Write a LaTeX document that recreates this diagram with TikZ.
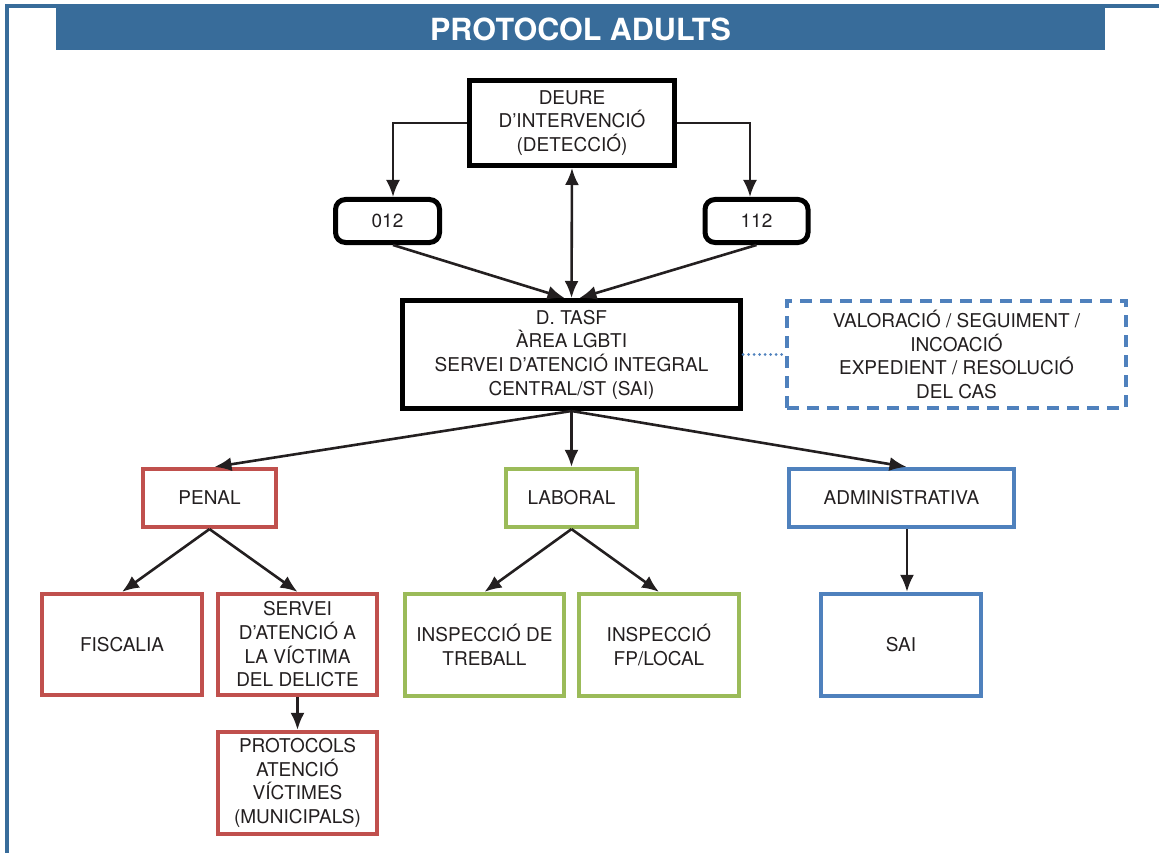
\documentclass[tikz,border=0pt]{standalone}
\usepackage{fontspec}
\setmainfont{TeX Gyre Heros}
\usetikzlibrary{arrows.meta}
\definecolor{frameblue}{HTML}{386C9A}
\definecolor{boxred}{HTML}{C0504D}
\definecolor{boxgreen}{HTML}{9BBB59}
\definecolor{boxblue}{HTML}{4F81BD}
\definecolor{txt}{HTML}{231F20}
\tikzset{
  base/.style={draw, line width=4.5pt, align=center, inner sep=0pt, text=txt,
    font=\fontsize{19}{23.7}\selectfont},
  blk/.style={base, draw=black, line width=5pt},
  rnd/.style={base, draw=black, line width=5pt, rounded corners=10pt},
  redbox/.style={base, draw=boxred, line width=4.2pt},
  greenbox/.style={base, draw=boxgreen, line width=4.2pt},
  bluebox/.style={base, draw=boxblue, line width=4.2pt},
  dashbox/.style={base, draw=boxblue, line width=4.2pt, dash pattern=on 12pt off 8pt},
  tip/.tip={Latex[length=17pt,width=14pt]},
  arr/.style={line width=2.6pt, draw=txt, -tip},
  darr/.style={line width=2.6pt, draw=txt, tip-tip},
}
\begin{document}
\begin{tikzpicture}[x=1pt,y=-1pt]
\useasboundingbox (0,0) rectangle (1159,853);
% frame
\draw[frameblue, line width=4pt] (7,853) -- (7,6) -- (1159,6);
\fill[white] (9,8) rectangle (56,50);
\fill[white] (1105,8) rectangle (1159,50);
\node[fill=frameblue, minimum width=1049pt, minimum height=42pt, inner sep=0pt,
  text=white, font=\bfseries\fontsize{30.5}{32}\selectfont] (title) at (580.5,29) {PROTOCOL ADULTS};
% nodes
\node[blk, minimum width=205pt, minimum height=85pt] (deure) at (572,123)
  {DEURE\\D’INTERVENCIÓ\\(DETECCIÓ)};
\node[rnd, minimum width=104pt, minimum height=43pt] (n012) at (387.5,221) {012};
\node[rnd, minimum width=103pt, minimum height=43pt] (n112) at (756.5,221) {112};
\node[blk, minimum width=338pt, minimum height=108pt] (tasf) at (571.5,354.5)
  {D. TASF\\ÀREA LGBTI\\SERVEI D’ATENCIÓ INTEGRAL\\CENTRAL/ST (SAI)};
\node[dashbox, minimum width=339pt, minimum height=107pt] (val) at (956.5,354.5)
  {VALORACIÓ / SEGUIMENT /\\INCOACIÓ\\EXPEDIENT / RESOLUCIÓ\\DEL CAS};
\node[redbox, minimum width=133pt, minimum height=58pt] (penal) at (209.5,498) {PENAL};
\node[greenbox, minimum width=131pt, minimum height=58pt] (laboral) at (571.5,498) {LABORAL};
\node[bluebox, minimum width=225pt, minimum height=58pt] (admin) at (901.5,498) {ADMINISTRATIVA};
\node[redbox, minimum width=160pt, minimum height=101pt] (fisc) at (122,644.5) {FISCALIA};
\node[redbox, minimum width=159pt, minimum height=101pt] (servei) at (297.5,644.5)
  {SERVEI\\D’ATENCIÓ A\\LA VÍCTIMA\\DEL DELICTE};
\node[redbox, minimum width=159pt, minimum height=102pt] (prot) at (297.5,783)
  {PROTOCOLS\\ATENCIÓ\\VÍCTIMES\\(MUNICIPALS)};
\node[greenbox, minimum width=159pt, minimum height=102pt] (insp1) at (484.5,645)
  {INSPECCIÓ DE\\TREBALL};
\node[greenbox, minimum width=160pt, minimum height=102pt] (insp2) at (659,645)
  {INSPECCIÓ\\FP/LOCAL};
\node[bluebox, minimum width=160pt, minimum height=102pt] (sai) at (901,645) {SAI};
% connectors
\draw[arr] (deure.west) -| ([xshift=5.5pt]n012.north);
\draw[arr] (deure.east) -| ([xshift=-6.5pt]n112.north);
\draw[darr] (deure.south) -- (tasf.north);
\draw[arr] ([xshift=5.5pt]n012.south) -- ([xshift=-7pt]tasf.north);
\draw[arr] ([xshift=0pt]n112.south) -- ([xshift=8pt]tasf.north);
\draw[boxblue, line width=3pt, line cap=round, dash pattern=on 0pt off 5.5pt] (tasf.east) -- (val.west);
\draw[arr] (tasf.south) -- ([xshift=5pt]penal.north);
\draw[arr] (tasf.south) -- (laboral.north);
\draw[arr] (tasf.south) -- ([xshift=5pt]admin.north);
\draw[arr] (penal.south) -- (fisc.north);
\draw[arr] (penal.south) -- (servei.north);
\draw[arr] (servei.south) -- (prot.north);
\draw[arr] (laboral.south) -- (insp1.north);
\draw[arr] (laboral.south) -- (insp2.north);
\draw[arr] ([xshift=5.5pt]admin.south) -- ([xshift=5.5pt]admin.south |- sai.north);
\end{tikzpicture}
\end{document}
